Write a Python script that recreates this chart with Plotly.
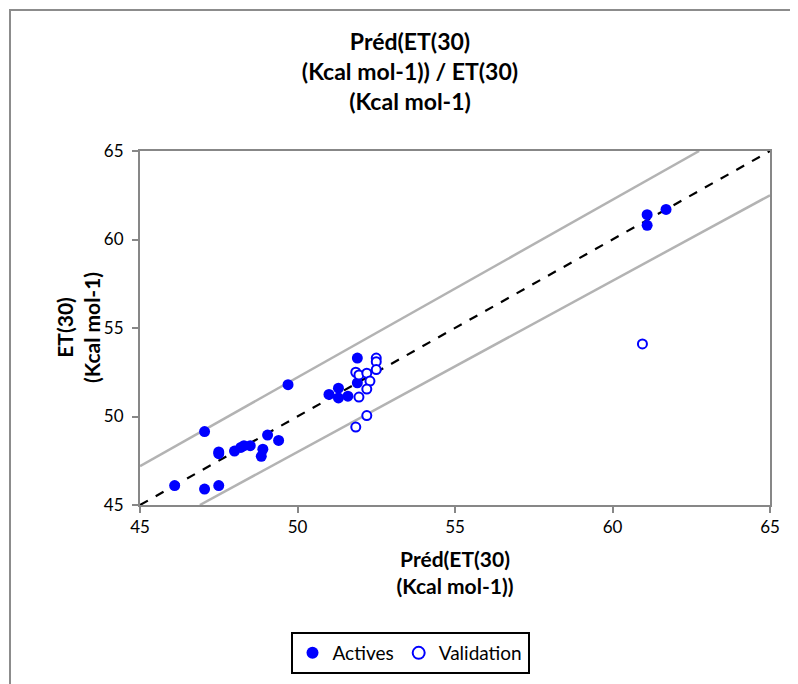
import plotly.graph_objects as go

# Data
actives_x = [46.1, 47.05, 47.5, 47.05, 47.5, 47.5, 48.0, 48.2, 48.3, 48.5, 48.9, 48.85,
             49.05, 49.4, 49.7, 51.0, 51.3, 51.3, 51.6, 51.9, 51.9, 61.1, 61.1, 61.7]
actives_y = [46.1, 45.9, 46.1, 49.15, 48.0, 47.9, 48.05, 48.25, 48.35, 48.35, 48.15, 47.75,
             48.95, 48.65, 51.8, 51.25, 51.6, 51.05, 51.15, 53.3, 51.9, 61.4, 60.8, 61.7]

valid_x = [52.5, 52.5, 52.5, 51.85, 51.95, 52.2, 52.3, 52.2, 51.95, 52.2, 51.85, 60.95]
valid_y = [53.3, 53.1, 52.65, 52.5, 52.35, 52.45, 52.0, 51.55, 51.1, 50.05, 49.4, 54.1]

ideal_x = [45, 65]
ideal_y = [45, 65]
upper_x = [45, 62.75]
upper_y = [47.2, 65]
lower_x = [46.9, 65]
lower_y = [45, 62.5]

tick_vals = [45, 50, 55, 60, 65]

FONT = "Lato, 'Open Sans', sans-serif"
BLUE = "#0000FF"
AXC = "#878787"

fig = go.Figure()
fig.add_trace(go.Scatter(x=upper_x, y=upper_y, mode="lines", showlegend=False,
                         line=dict(color="#B3B3B3", width=2.5), hoverinfo="skip"))
fig.add_trace(go.Scatter(x=lower_x, y=lower_y, mode="lines", showlegend=False,
                         line=dict(color="#B3B3B3", width=2.5), hoverinfo="skip"))
fig.add_trace(go.Scatter(x=ideal_x, y=ideal_y, mode="lines", showlegend=False,
                         line=dict(color="black", width=2.2, dash="dash"), hoverinfo="skip"))
fig.add_trace(go.Scatter(x=actives_x, y=actives_y, mode="markers", name="Actives",
                         marker=dict(color=BLUE, size=11, line=dict(width=0))))
fig.add_trace(go.Scatter(x=valid_x, y=valid_y, mode="markers", name="Validation",
                         marker=dict(color="white", size=9, line=dict(color=BLUE, width=2))))

# page body has an 8px margin; positions below are in page pixels converted to figure
OFF = 8
W, H = 798, 684
L, R, T, B = 140 - OFF, 770 - OFF, 151 - OFF, 505 - OFF
pw, ph = R - L, B - T

def px(xp):
    return (xp - OFF - L) / pw

def py(yp):
    return (B - (yp - OFF)) / ph

fig.update_layout(
    width=W, height=H,
    margin=dict(l=L, r=W - R, t=T, b=H - B),
    paper_bgcolor="white", plot_bgcolor="white",
    font=dict(family=FONT, size=17, color="black"),
    title=dict(text="<b>Préd(ET(30)<br>(Kcal mol-1)) / ET(30)<br>(Kcal mol-1)</b>",
               x=(410 - OFF) / W, xanchor="center", y=1 - 42 / H, yanchor="top",
               font=dict(family=FONT, size=23)),
    xaxis=dict(range=[45, 65], tickvals=tick_vals, showgrid=False, zeroline=False,
               showline=True, linecolor=AXC, linewidth=2, mirror=True,
               ticks="outside", ticklen=6, tickcolor=AXC, tickwidth=2,
               tickfont=dict(size=17),
               title=dict(text="<b>Préd(ET(30)<br>(Kcal mol-1))</b>", font=dict(size=21), standoff=16)),
    yaxis=dict(range=[45, 65], tickvals=tick_vals, showgrid=False, zeroline=False,
               showline=True, linecolor=AXC, linewidth=2, mirror=True,
               ticks="outside", ticklen=6, tickcolor=AXC, tickwidth=2,
               ticklabelstandoff=5, tickfont=dict(size=17)),
    annotations=[dict(text="<b>ET(30)<br>(Kcal mol-1)</b>", xref="paper", yref="paper",
                      x=px(78), y=py(328), xanchor="center", yanchor="middle",
                      textangle=-90, showarrow=False, font=dict(size=21))],
    legend=dict(orientation="h", x=px(410), xanchor="center", y=py(632), yanchor="top",
                bordercolor="black", borderwidth=2, bgcolor="white",
                font=dict(size=19), itemsizing="constant"),
    shapes=[dict(type="rect", xref="paper", yref="paper",
                 x0=px(10), x1=px(830), y0=py(720), y1=py(10),
                 line=dict(color="#8C8C8C", width=2), layer="below")],
)

fig.write_html("out.html")
